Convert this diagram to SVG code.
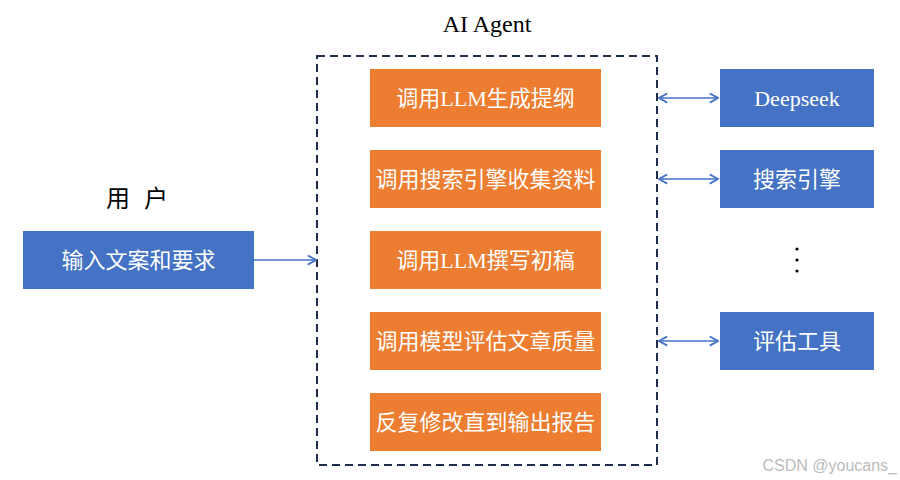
<svg xmlns="http://www.w3.org/2000/svg" width="900" height="480" viewBox="0 0 900 480">
<style>
.orange{fill:#ED7D31}
.blue{fill:#4472C4}
.t{font-family:"Liberation Serif","Noto Sans CJK SC",serif;font-size:22px;fill:#fff;text-anchor:middle;dominant-baseline:central}
.lbl{font-family:"Liberation Serif","Noto Sans CJK SC",serif;font-size:24px;fill:#000;text-anchor:middle;dominant-baseline:central}
.c{stroke:#4472C4;stroke-width:1.6;fill:none}
</style>
<defs>
<marker id="ah" viewBox="0 0 12 12" refX="11" refY="6" markerWidth="11" markerHeight="11" orient="auto-start-reverse" markerUnits="userSpaceOnUse">
<path d="M2,1 L11,6 L2,11" fill="none" stroke="#4472C4" stroke-width="2"/>
</marker>
</defs>
<rect width="900" height="480" fill="#fff"/>
<text class="lbl" x="487" y="24">AI Agent</text>
<text class="lbl" x="139" y="199" font-size="22" letter-spacing="4">用 户</text>
<g id="agent"><rect x="317" y="56" width="340" height="409" fill="none" stroke="#1F2D4D" stroke-width="2" stroke-dasharray="8,5"/></g>
<g id="s1"><rect class="orange" x="370" y="69" width="231" height="58"/><text class="t" x="485.5" y="98">调用LLM生成提纲</text></g>
<g id="s2"><rect class="orange" x="370" y="150" width="231" height="58"/><text class="t" x="485.5" y="179">调用搜索引擎收集资料</text></g>
<g id="s3"><rect class="orange" x="370" y="231" width="231" height="58"/><text class="t" x="485.5" y="260">调用LLM撰写初稿</text></g>
<g id="s4"><rect class="orange" x="370" y="312" width="231" height="58"/><text class="t" x="485.5" y="341">调用模型评估文章质量</text></g>
<g id="s5"><rect class="orange" x="370" y="393" width="231" height="58"/><text class="t" x="485.5" y="422">反复修改直到输出报告</text></g>
<g id="user"><rect class="blue" x="23" y="231" width="231" height="58"/><text class="t" x="138.5" y="260">输入文案和要求</text></g>
<g id="deepseek"><rect class="blue" x="720" y="69" width="154" height="58"/><text class="t" x="797" y="98">Deepseek</text></g>
<g id="search"><rect class="blue" x="720" y="150" width="154" height="58"/><text class="t" x="797" y="179">搜索引擎</text></g>
<g id="eval"><rect class="blue" x="720" y="312" width="154" height="58"/><text class="t" x="797" y="341">评估工具</text></g>
<g id="dots" fill="#000"><circle cx="797" cy="249" r="1.6"/><circle cx="797" cy="260" r="1.6"/><circle cx="797" cy="271" r="1.6"/></g>
<g id="connectors">
<line class="c" x1="254" y1="260" x2="316" y2="260" marker-end="url(#ah)"/>
<line class="c" x1="659" y1="98" x2="718" y2="98" marker-start="url(#ah)" marker-end="url(#ah)"/>
<line class="c" x1="659" y1="179" x2="718" y2="179" marker-start="url(#ah)" marker-end="url(#ah)"/>
<line class="c" x1="659" y1="341" x2="718" y2="341" marker-start="url(#ah)" marker-end="url(#ah)"/>
</g>
<text x="897" y="465" font-family="Liberation Sans,sans-serif" font-size="16" fill="#bbb" text-anchor="end" dominant-baseline="central">CSDN @youcans_</text>
</svg>
